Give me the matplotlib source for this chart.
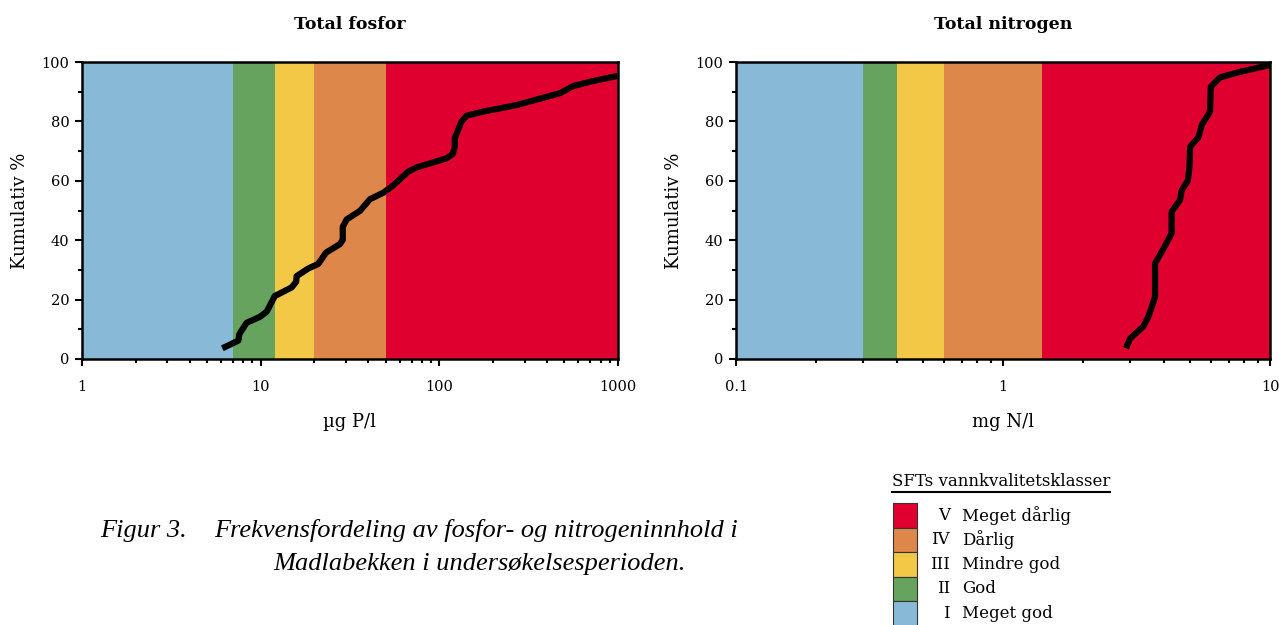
import matplotlib
matplotlib.use('Agg')
import matplotlib.pyplot as plt
from matplotlib.patches import Rectangle
from matplotlib.ticker import LogLocator, FixedLocator, MultipleLocator, NullFormatter

plt.rcParams['font.family'] = ['DejaVu Serif']

# klassegrenser (SFT)
p_limits = [1, 7, 12, 20, 50, 1000]
n_limits = [0.1, 0.3, 0.4, 0.6, 1.4, 10]
class_colors = ['#88bad8', '#66a35e', '#f2c846', '#dd874a', '#e0002f']
class_names = ['Meget god', 'God', 'Mindre god', 'Dårlig', 'Meget dårlig']
class_nums = ['I', 'II', 'III', 'IV', 'V']

# kumulativ fordeling, fosfor (ug P/l)
p_x = [6.1, 7.5, 7.6, 8.35, 9.9, 10.8, 12.0, 14.9, 15.8, 15.9, 18.5, 21.0, 23.2, 27.8,
       28.8, 28.8, 30.3, 36.0, 40.9, 48.6, 54.1, 67.0, 74.6, 110, 119, 122, 122, 133,
       142, 176, 271, 473, 561, 727, 990]
p_y = [3.6, 6.2, 8.4, 12.2, 14.2, 15.9, 21.2, 24.1, 26.0, 27.9, 30.5, 32.0, 35.8, 38.7,
       40.1, 44.5, 47.0, 49.9, 53.8, 56.0, 58.0, 63.1, 64.5, 67.6, 69.0, 71.5, 74.3, 79.9,
       81.9, 83.3, 85.5, 89.5, 91.9, 93.6, 95.3]

# kumulativ fordeling, nitrogen (mg N/l)
n_x = [2.89, 2.99, 3.35, 3.50, 3.71, 3.71, 3.93, 4.28, 4.28, 4.60, 4.67, 4.92, 4.99,
       5.02, 5.39, 5.55, 5.96, 6.0, 6.5, 7.72, 10.0]
n_y = [3.6, 6.9, 10.9, 14.2, 20.9, 32.2, 36.1, 42.3, 49.6, 53.5, 56.9, 60.0, 64.7,
       71.5, 74.6, 78.8, 83.3, 91.7, 94.8, 96.7, 99.0]

fig = plt.figure(figsize=(12.79, 6.25), dpi=100)


def panel(rect, limits, xs, ys, title, xlabel, ticks, ticklabels):
    ax = fig.add_axes(rect)
    for i in range(5):
        ax.axvspan(limits[i], limits[i + 1], color=class_colors[i], lw=0, zorder=0)
    ax.plot(xs, ys, color='black', lw=4.5, solid_capstyle='butt', zorder=3)
    ax.set_xscale('log')
    ax.set_xlim(limits[0], limits[-1])
    ax.set_ylim(0, 100)
    ax.xaxis.set_major_locator(FixedLocator(ticks))
    ax.set_xticklabels(ticklabels)
    ax.xaxis.set_minor_locator(LogLocator(base=10, subs=range(2, 10)))
    ax.xaxis.set_minor_formatter(NullFormatter())
    ax.yaxis.set_major_locator(MultipleLocator(20))
    ax.yaxis.set_minor_locator(MultipleLocator(10))
    ax.tick_params(which='major', direction='out', length=5, width=1.5, labelsize=10.5, pad=10)
    ax.tick_params(which='minor', direction='out', length=3, width=1.5)
    ax.tick_params(axis='y', which='major', pad=4)
    for s in ax.spines.values():
        s.set_linewidth(1.8)
    ax.set_title(title, fontsize=12.5, fontweight='bold', pad=24)
    ax.set_xlabel(xlabel, fontsize=13, labelpad=14)
    ax.set_ylabel('Kumulativ %', fontsize=13, labelpad=9)
    return ax


panel([0.0641, 0.4256, 0.4191, 0.4752], p_limits, p_x, p_y, 'Total fosfor', 'µg P/l',
      [1, 10, 100, 1000], ['1', '10', '100', '1000'])
panel([0.5755, 0.4256, 0.4175, 0.4752], n_limits, n_x, n_y, 'Total nitrogen', 'mg N/l',
      [0.1, 1, 10], ['0.1', '1', '10'])

# figurtekst
cap = dict(fontsize=19, style='italic', family='Liberation Serif', va='center')
fig.text(100 / 1279, 1 - 531 / 625, 'Figur 3.', **cap)
fig.text(214 / 1279, 1 - 531 / 625, 'Frekvensfordeling av fosfor- og nitrogeninnhold i', **cap)
fig.text(273 / 1279, 1 - 564 / 625, 'Madlabekken i undersøkelsesperioden.', **cap)

# tegnforklaring
fig.text(892 / 1279, 1 - 481 / 625, 'SFTs vannkvalitetsklasser', fontsize=12, va='center')
fig.add_artist(plt.Line2D([892 / 1279, 1110 / 1279], [1 - 492 / 625] * 2, color='black', lw=1.5))
box_h = 24.5
for k in range(5):
    idx = 4 - k
    top = 503 + k * box_h
    fig.add_artist(Rectangle((893 / 1279, 1 - (top + box_h) / 625), 24 / 1279, box_h / 625,
                             facecolor=class_colors[idx], edgecolor='#333333', lw=0.8))
    yc = 1 - (top + box_h / 2) / 625
    fig.text(950 / 1279, yc, class_nums[idx], fontsize=12, ha='right', va='center')
    fig.text(962 / 1279, yc, class_names[idx], fontsize=12, ha='left', va='center')

fig.savefig('out.png', dpi=100)
